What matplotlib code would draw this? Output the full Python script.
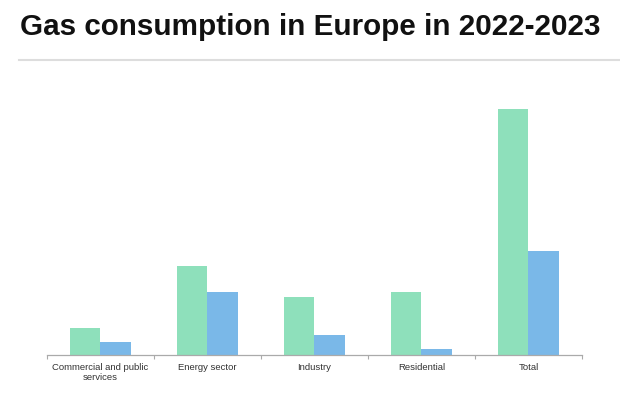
import matplotlib

matplotlib.use("Agg")
import matplotlib.pyplot as plt
import numpy as np
from matplotlib.lines import Line2D

plt.rcParams["font.family"] = ["Liberation Sans", "DejaVu Sans"]

categories = ["Commercial and public\nservices", "Energy sector", "Industry", "Residential", "Total"]
gas_2022 = [27, 89, 58, 63, 246]
gas_2023 = [13, 63, 20, 6, 104]

green = "#8ee0bb"
blue = "#7ab8e8"

fig = plt.figure(figsize=(6.2, 3.93), dpi=100)
fig.text(0.032, 0.968, "Gas consumption in Europe in 2022-2023", fontsize=21.3,
         fontweight="bold", va="top", ha="left", color="#111111")
fig.add_artist(Line2D([0.03, 1.0], [0.847, 0.847], color="#dddddd", lw=1.5))

ax = fig.add_axes([0.0758, 0.0967, 0.8629, 0.6616])
x = np.arange(len(categories))
w = 0.285
ax.bar(x - w / 2, gas_2022, width=w, color=green)
ax.bar(x + w / 2, gas_2023, width=w, color=blue)

ax.set_xlim(-0.5, len(categories) - 0.5)
ax.set_ylim(0, 260)
ax.set_yticks([])
for s in ("left", "top", "right"):
    ax.spines[s].set_visible(False)
ax.spines["bottom"].set_color("#aaaaaa")
ax.spines["bottom"].set_linewidth(0.9)

ax.set_xticks(x)
ax.set_xticklabels(categories, fontsize=6.8, color="#333333", linespacing=1.1)
ax.tick_params(axis="x", which="major", length=0, pad=6)
ax.set_xticks(np.arange(-0.5, len(categories)), minor=True)
ax.tick_params(axis="x", which="minor", length=3, color="#aaaaaa", width=0.8)

fig.savefig("out.png", dpi=100)
